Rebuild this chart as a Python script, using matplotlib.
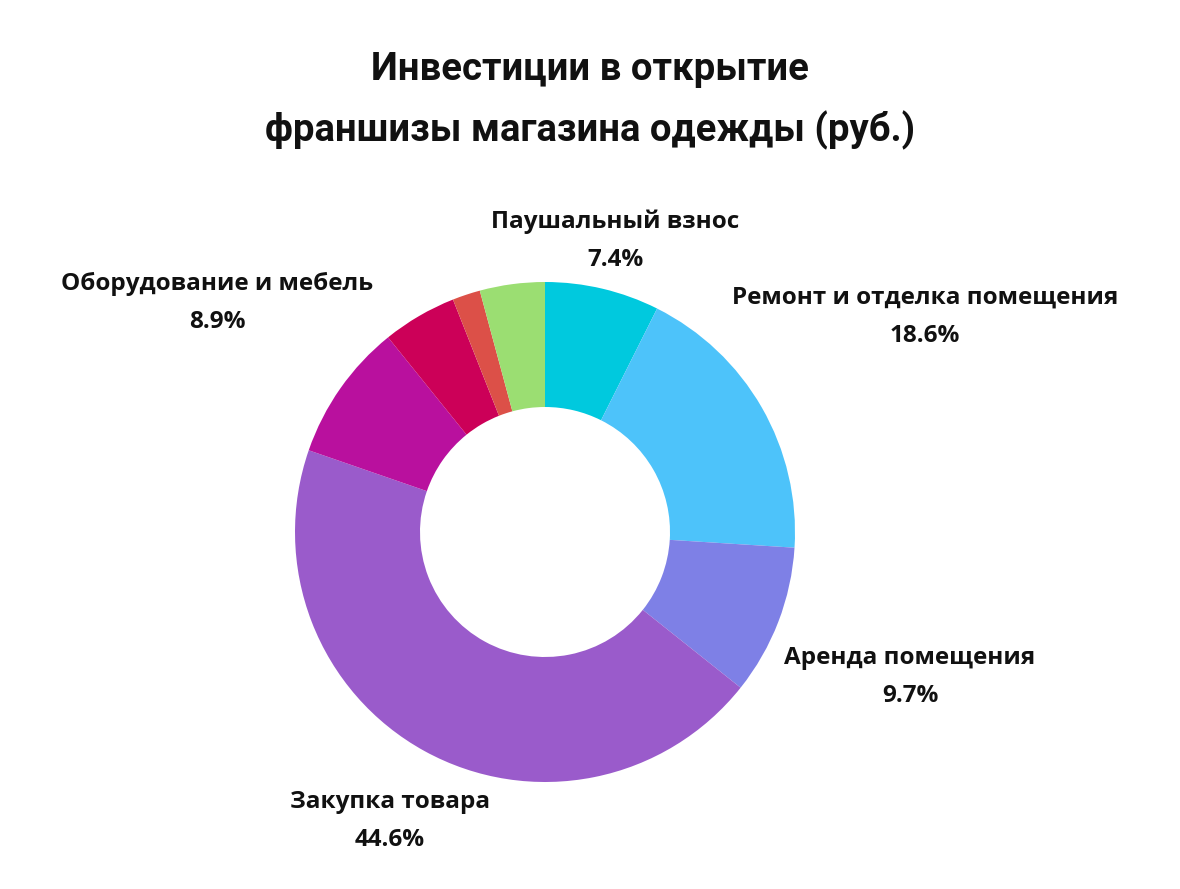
import matplotlib
matplotlib.use("Agg")
import matplotlib.pyplot as plt

labels = ["Паушальный взнос", "Ремонт и отделка помещения", "Аренда помещения",
          "Закупка товара", "Оборудование и мебель", "", "", ""]
shares = [7.4, 18.6, 9.7, 44.6, 8.9, 4.8, 1.8, 4.2]
colors = ["#00C9DE", "#4DC3FA", "#7E80E6", "#9A5BCB", "#B9109E", "#CC0058", "#DC5048", "#9BDE72"]

# label centers in pixels (x, y of name line)
label_pos = {
    0: (615, 222),
    1: (925, 298),
    2: (910, 658),
    3: (390, 802),
    4: (217, 284),
}

W, H = 1180, 889
fig = plt.figure(figsize=(W / 100, H / 100), dpi=100)

cx, cy, r = 545, 532, 250
ax = fig.add_axes([(cx - r) / W, (H - cy - r) / H, 2 * r / W, 2 * r / H])
ax.pie(shares, colors=colors, startangle=90, counterclock=False, radius=1,
       wedgeprops=dict(width=0.5, linewidth=0))
ax.set_xlim(-1, 1)
ax.set_ylim(-1, 1)
ax.set_aspect("equal")
ax.axis("off")

fig.text(0.5, 1 - 70 / H, "Инвестиции в открытие", ha="center", va="center",
         fontsize=27.5, weight="bold", family="Roboto", color="#111111")
fig.text(0.5, 1 - 130 / H, "франшизы магазина одежды (руб.)", ha="center", va="center",
         fontsize=27.5, weight="bold", family="Roboto", color="#111111")

for i, (px, py) in label_pos.items():
    fig.text(px / W, 1 - py / H, labels[i], ha="center", va="center",
             fontsize=17.5, weight="bold", family="Open Sans", color="#111111")
    fig.text(px / W, 1 - (py + 38) / H, f"{shares[i]}%", ha="center", va="center",
             fontsize=17.5, weight="bold", family="Open Sans", color="#111111")

fig.savefig("out.png", dpi=100, facecolor="white")
